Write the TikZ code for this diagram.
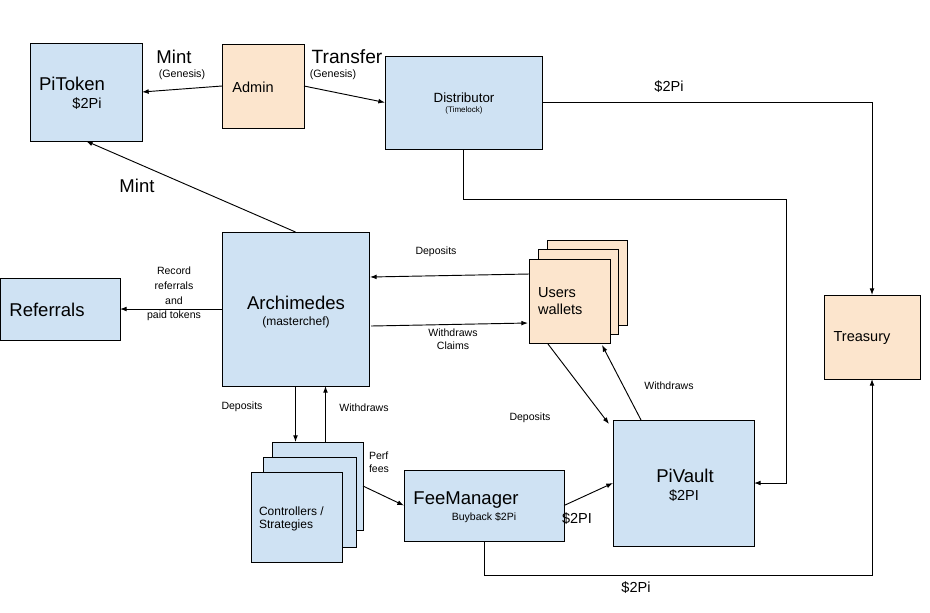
\documentclass[tikz,border=0pt]{standalone}
\usepackage{fontspec}
\setmainfont{Liberation Sans}
\usetikzlibrary{fit,calc,arrows.meta}
\definecolor{cblue}{HTML}{CFE2F3}
\definecolor{corange}{HTML}{FCE5CD}
\tikzset{
  box/.style={draw, line width=0.75pt, inner sep=0pt, outer sep=0pt},
  bluebox/.style={box, fill=cblue},
  orangebox/.style={box, fill=corange},
  arr/.style={draw, line width=0.7pt, -{Latex[length=5pt,width=3.6pt]}},
  txt/.style={inner sep=0pt, outer sep=0pt, text=black},
  fbig/.style={txt, font=\fontsize{13.9}{16}\selectfont},
  fmed/.style={txt, font=\fontsize{10.9}{12.75}\selectfont},
  fmid/.style={txt, font=\fontsize{9}{9.75}\selectfont},
  fsmall/.style={txt, font=\fontsize{7.9}{10.9}\selectfont},
  fgen/.style={txt, font=\fontsize{8}{10}\selectfont},
  ftiny/.style={txt, font=\fontsize{6}{7}\selectfont},
}
\begin{document}
\begin{tikzpicture}[x=0.75pt,y=-0.75pt]
\useasboundingbox (0,0) rectangle (930,612);
\fill[white] (0,0) rectangle (930,612);

% boxes
\node[bluebox, fit={(30,43) (142,141)}] (pitoken) {};
\node[orangebox, fit={(222,44) (304,128)}] (admin) {};
\node[bluebox, fit={(385,56) (542,149)}] (distributor) {};
\node[bluebox, fit={(222,232) (369,386)}] (archimedes) {};
\node[bluebox, fit={(0.5,278) (120,340)}] (referrals) {};
\node[orangebox, fit={(547,240) (627,325)}] (users3) {};
\node[orangebox, fit={(538,249) (618,334)}] (users2) {};
\node[orangebox, fit={(529,259) (610,343)}] (users) {};
\node[orangebox, fit={(824,295) (920,379)}] (treasury) {};
\node[bluebox, fit={(272,442) (363,530)}] (ctrl3) {};
\node[bluebox, fit={(263,457) (356,547)}] (ctrl2) {};
\node[bluebox, fit={(251,472) (342,562)}] (ctrl) {};
\node[bluebox, fit={(404,470) (564,541)}] (feemanager) {};
\node[bluebox, fit={(613,420) (754,546)}] (pivault) {};

% box texts
\node[fbig] (tpitoken) at (72,84) {PiToken};
\node[fmed] (tpitoken2) at (87,104) {\$2Pi};
\node[fmed] (tadmin) at (253,87) {Admin};
\node[txt, font=\fontsize{10}{12}\selectfont] (tdist) at (464,98) {Distributor};
\node[ftiny] (tdist2) at (464,110) {(Timelock)};
\node[fbig] (tarch) at (296,303) {Archimedes};
\node[txt, font=\fontsize{9}{11}\selectfont] (tarch2) at (296,322) {(masterchef)};
\node[fbig] (tref) at (47,310) {Referrals};
\node[fmed, anchor=west, align=left] (tusers) at (538,301.5) {Users\\wallets};
\node[fmed] (ttreas) at (862,338) {Treasury};
\node[fmid, anchor=west, align=left] (tctrl) at (259,518.5) {Controllers /\\Strategies};
\node[fbig] (tfee) at (466,500) {FeeManager};
\node[fsmall] (tfee2) at (484,518) {Buyback \$2Pi};
\node[fbig] (tpiv) at (685,476) {PiVault};
\node[fmed] (tpiv2) at (684,496) {\$2PI};

% connectors
\draw[arr] (admin.west) -- (pitoken.east);
\draw[arr] (admin.east) -- (distributor.west);
\draw[arr] (archimedes.north) -- (pitoken.south);
\draw[arr] (distributor.east) -| (treasury.north);
\coordinate (c1) at (786,199);
\draw[arr] (distributor.south) |- (c1) |- (pivault.east);
\draw[arr] (archimedes.west) -- (referrals.east);
\draw[arr] ($(users.west)+(0,-27)$) -- ($(archimedes.east)+(1,-32)$);
\draw[arr] ($(archimedes.east)+(2,17)$) -- ($(users.west)+(-1,22)$);
\draw[arr] ($(users.south west)+(19,1)$) -- ($(pivault.north west)+(-4,4)$);
\draw[arr] ($(pivault.north west)+(28,0)$) -- ($(users.south east)+(-8,2)$);
\draw[arr] (archimedes.south) -- (archimedes.south |- ctrl3.north);
\coordinate (c3) at ($(archimedes.south)+(30,0)$);
\draw[arr] (c3 |- ctrl3.north) -- (c3);
\draw[arr] (ctrl3.east) -- (feemanager.west);
\draw[arr] (feemanager.east) -- (pivault.west);
\coordinate (c2) at (872,575);
\draw[arr] (feemanager.south) |- (c2) -- (treasury.south);

% connector labels
\node[fbig] (lmint1) at (174,57) {Mint};
\node[fgen] (lgen1) at (182,75) {(Genesis)};
\node[txt, font=\fontsize{14.4}{16}\selectfont] (ltransfer) at (347,57) {Transfer};
\node[fgen] (lgen2) at (333,75) {(Genesis)};
\node[fbig] (lmint2) at (137,186) {Mint};
\node[fmed] (l2pi1) at (669,87) {\$2Pi};
\node[fsmall, align=center] (lrecord) at (174,294) {Record\\referrals\\and\\paid tokens};
\node[fsmall] (ldep1) at (436,252) {Deposits};
\node[fsmall, align=center, font=\fontsize{7.9}{9.75}\selectfont] (lwc) at (453,339.5) {Withdraws\\Claims};
\node[fsmall] (ldep2) at (530,418) {Deposits};
\node[fsmall] (lwd2) at (669,386) {Withdraws};
\node[fsmall] (ldep3) at (242,407) {Deposits};
\node[fsmall] (lwd3) at (364,408) {Withdraws};
\node[fsmall, anchor=west, align=left, font=\fontsize{7.9}{9.75}\selectfont] (lperf) at (369,462.5) {Perf\\fees};
\node[fmed] (l2pi2) at (577,519) {\$2PI};
\node[fmed] (l2pi3) at (636,588) {\$2Pi};
\end{tikzpicture}
\end{document}
